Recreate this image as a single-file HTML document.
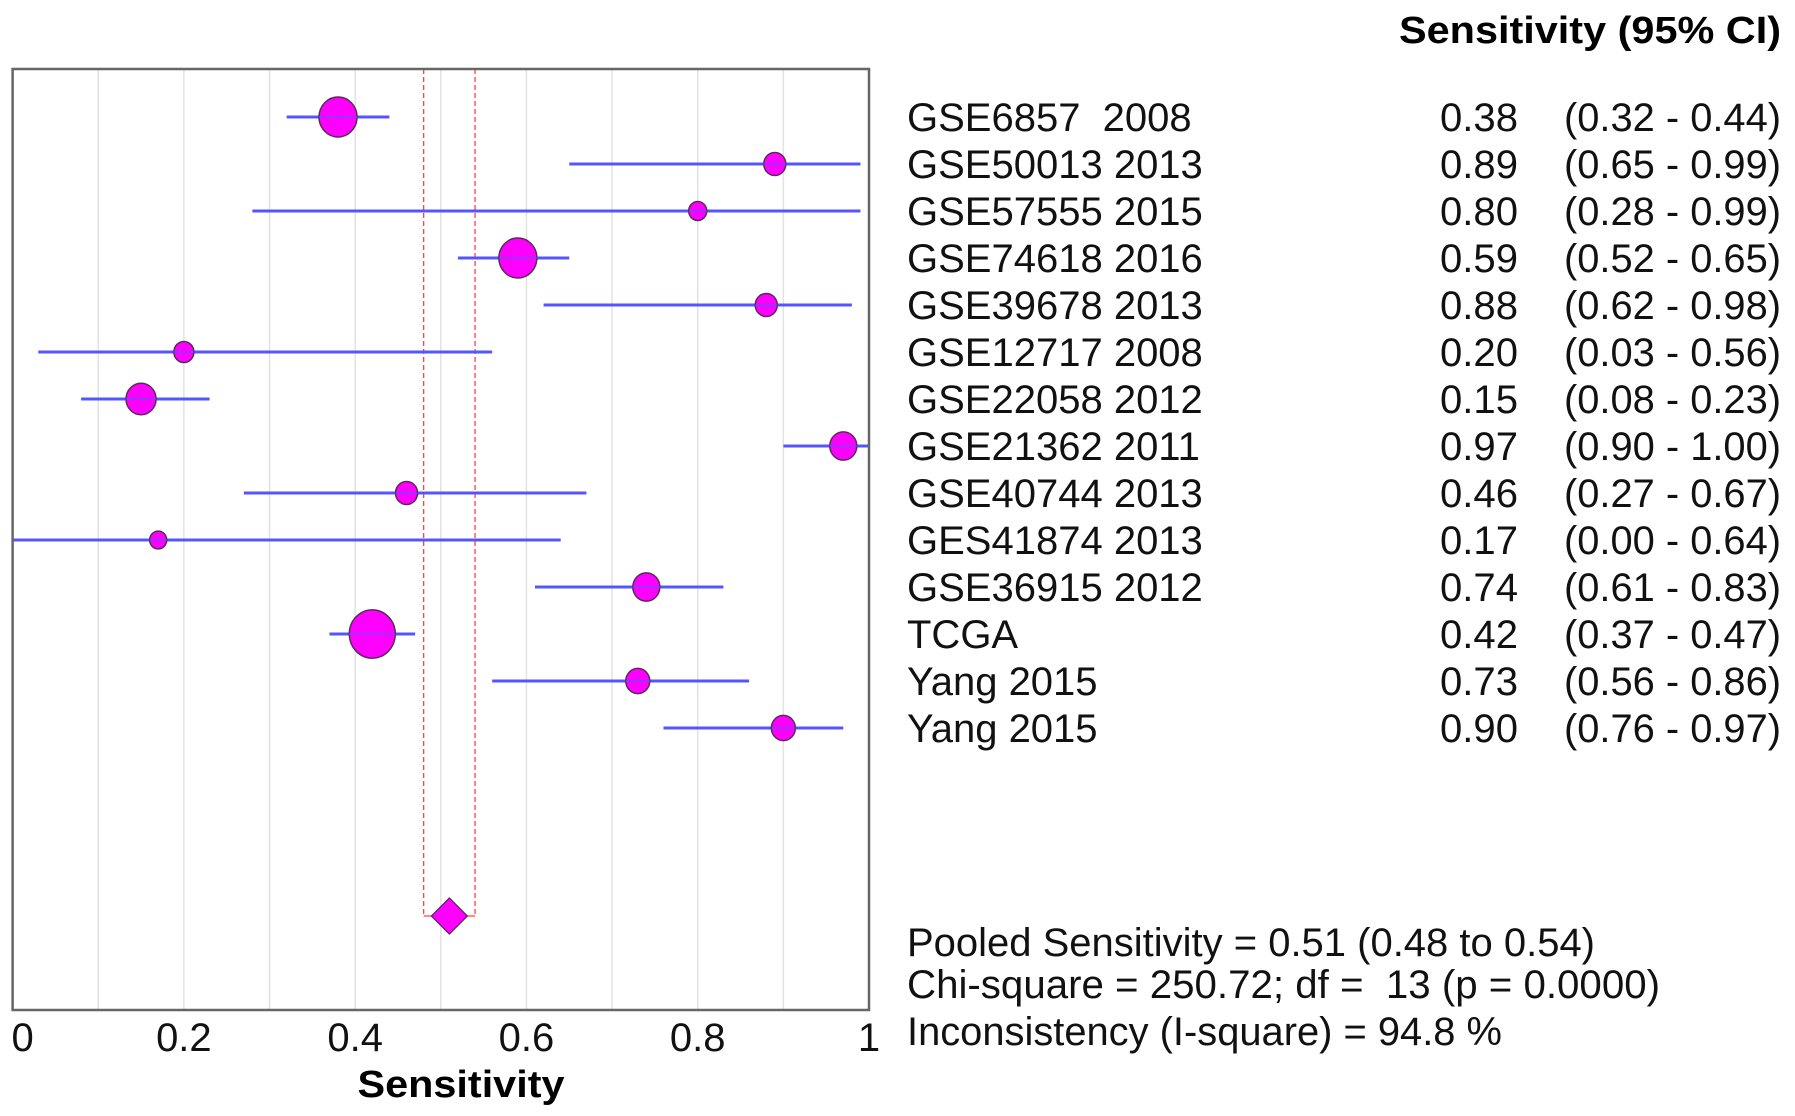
<!DOCTYPE html>
<html><head><meta charset="utf-8"><style>
html,body{margin:0;padding:0;background:#fff;}
svg{display:block;font-family:"Liberation Sans",Arial,sans-serif;}
text{white-space:pre;}
</style></head><body>
<svg id="chart" width="1795" height="1116" viewBox="0 0 1795 1116" xmlns="http://www.w3.org/2000/svg">
<g id="grid"></g>
<g id="pooled"></g>
<g id="marks"></g>
<rect x="12.6" y="69" width="856.4" height="941" fill="none" stroke="#666" stroke-width="2.5"/>
<g id="xticks"></g>
<text x="461" y="1097" font-size="38" font-weight="bold" text-anchor="middle" textLength="207" lengthAdjust="spacingAndGlyphs">Sensitivity</text>
<text x="1781" y="43" font-size="38" font-weight="bold" text-anchor="end" textLength="382" lengthAdjust="spacingAndGlyphs">Sensitivity (95% CI)</text>
<g id="table"></g>
<g font-size="40" fill="#111">
<text x="907" y="956" textLength="688" lengthAdjust="spacingAndGlyphs">Pooled Sensitivity = 0.51 (0.48 to 0.54)</text>
<text x="907" y="998" textLength="753" lengthAdjust="spacingAndGlyphs">Chi-square = 250.72; df =  13 (p = 0.0000)</text>
<text x="907" y="1045" textLength="595" lengthAdjust="spacingAndGlyphs">Inconsistency (I-square) = 94.8 %</text>
</g>
</svg>
<script>
const studies = ["GSE6857  2008","GSE50013 2013","GSE57555 2015","GSE74618 2016","GSE39678 2013","GSE12717 2008","GSE22058 2012","GSE21362 2011","GSE40744 2013","GES41874 2013","GSE36915 2012","TCGA","Yang 2015","Yang 2015"];
const sens = [0.38,0.89,0.80,0.59,0.88,0.20,0.15,0.97,0.46,0.17,0.74,0.42,0.73,0.90];
const ciLow = [0.32,0.65,0.28,0.52,0.62,0.03,0.08,0.90,0.27,0.00,0.61,0.37,0.56,0.76];
const ciHigh = [0.44,0.99,0.99,0.65,0.98,0.56,0.23,1.00,0.67,0.64,0.83,0.47,0.86,0.97];
const weights = [19,11,9,19,11,10,15,13.5,11,8.5,13.5,23,12,12];
const pooled = [0.51,0.48,0.54];
const xTicks = [0,0.2,0.4,0.6,0.8,1];
const xTickLabels = ["0","0.2","0.4","0.6","0.8","1"];

const NS="http://www.w3.org/2000/svg";
const X0=12.6,X1=869,Y0=69,Y1=1010,ROW0=117,ROWH=47,POOLY=916;
const xs=v=>X0+v*(X1-X0);
const ys=i=>ROW0+i*ROWH;
function mk(tag,parent,attrs){const e=document.createElementNS(NS,tag);for(const k in attrs)e.setAttribute(k,attrs[k]);parent.appendChild(e);return e;}
const grid=document.getElementById('grid');
for(let k=1;k<10;k++){
  const l=mk('line',grid,{x1:xs(k/10),x2:xs(k/10),y1:Y0,y2:Y1,stroke:'#e2e2e2','stroke-width':1.5});
  
  
}
const pg=document.getElementById('pooled');
[pooled[1],pooled[2]].forEach(v=>{
  const l=mk('line',pg,{x1:xs(v),x2:xs(v),y1:Y0,y2:POOLY,stroke:'#ff4040','stroke-width':1.3,'stroke-dasharray':'5,3'});
  
  
});
const bl=mk('line',pg,{x1:xs(pooled[1]),x2:xs(pooled[2]),y1:POOLY,y2:POOLY,stroke:'#ff4040','stroke-width':1.3});


const cx=xs(pooled[0]);
const dm=mk('polygon',pg,{points:`${cx-18},${POOLY} ${cx},${POOLY-18} ${cx+18},${POOLY} ${cx},${POOLY+18}`,fill:'#ff00ff',stroke:'#552255','stroke-width':1.2});



const marks=document.getElementById('marks');
const table=document.getElementById('table');
studies.forEach((s,i)=>{
  const y=ys(i);
  const ln=mk('line',marks,{x1:xs(Math.max(0,ciLow[i])),x2:xs(Math.min(1,ciHigh[i])),y1:y,y2:y,stroke:'#5555ff','stroke-width':3});
  
  
  const c=mk('ellipse',marks,{cx:xs(sens[i]),cy:y,rx:weights[i],ry:weights[i]*1.05,fill:'#ff00ff',stroke:'#5a2a5a','stroke-width':1.5});
  
  
  const ln2=mk('line',marks,{x1:xs(sens[i])-weights[i],x2:xs(sens[i])+weights[i],y1:y,y2:y,stroke:'#5555ff','stroke-width':2,'stroke-opacity':0.6});
  
  
  const t1=mk('text',table,{x:907,y:y+14,'font-size':40,fill:'#111'});
  t1.textContent=s;
  
  
  const t2=mk('text',table,{x:1518,y:y+14,'font-size':40,fill:'#111','text-anchor':'end',textLength:78,lengthAdjust:'spacingAndGlyphs'});
  t2.textContent=sens[i].toFixed(2);
  
  
  const t3=mk('text',table,{x:1781,y:y+14,'font-size':40,fill:'#111','text-anchor':'end',textLength:217,lengthAdjust:'spacingAndGlyphs'});
  t3.textContent=`(${ciLow[i].toFixed(2)} - ${ciHigh[i].toFixed(2)})`;
  
  
});
const xt=document.getElementById('xticks');
xTicks.forEach((v,i)=>{
  let x=xs(v); if(v===0)x+=10;
  const t=mk('text',xt,{x:x,y:1051,'font-size':40,fill:'#111','text-anchor':'middle'});
  t.textContent=xTickLabels[i];
  
  
});
</script>
</body></html>
